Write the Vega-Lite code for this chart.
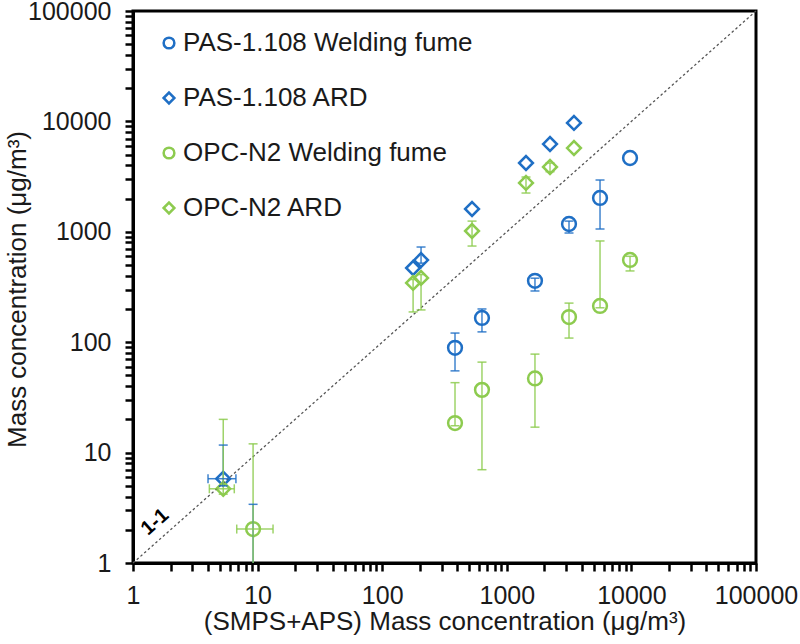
{
  "$schema": "https://vega.github.io/schema/vega-lite/v6.json",
  "width": 623,
  "height": 552,
  "autosize": "none",
  "padding": {"left": 133, "top": 11, "right": 44, "bottom": 81},
  "background": "white",
  "config": {
    "view": {"stroke": "black", "strokeWidth": 3},
    "font": "Liberation Sans",
    "axis": {
      "domainColor": "black",
      "domainWidth": 3,
      "tickColor": "black",
      "grid": false,
      "labelFont": "Liberation Sans",
      "labelFontSize": 25,
      "labelColor": "#1a1a1a",
      "labelOverlap": false,
      "labelFlush": false,
      "titleFont": "Liberation Sans",
      "titleFontSize": 26,
      "titleFontWeight": "normal",
      "titleColor": "#1a1a1a"
    }
  },
  "datasets": {
    "pts": [
      {"series": "PAS-1.108 Welding fume", "x": 9.2, "y": 0.8, "yLo": 0.3, "yHi": 3.4, "xLo": 7.6, "xHi": 11.5},
      {"series": "PAS-1.108 Welding fume", "x": 384, "y": 89, "yLo": 55, "yHi": 121},
      {"series": "PAS-1.108 Welding fume", "x": 632, "y": 166, "yLo": 124, "yHi": 200},
      {"series": "PAS-1.108 Welding fume", "x": 1683, "y": 360, "yLo": 291, "yHi": 380},
      {"series": "PAS-1.108 Welding fume", "x": 3157, "y": 1177, "yLo": 975, "yHi": 1250},
      {"series": "PAS-1.108 Welding fume", "x": 5600, "y": 2025, "yLo": 1060, "yHi": 2945},
      {"series": "PAS-1.108 Welding fume", "x": 9750, "y": 4660},
      {"series": "PAS-1.108 ARD", "x": 5.3, "y": 5.8, "yLo": 5.0, "yHi": 11.7, "xLo": 4.0, "xHi": 6.7},
      {"series": "PAS-1.108 ARD", "x": 177, "y": 470},
      {"series": "PAS-1.108 ARD", "x": 205, "y": 555, "yLo": 520, "yHi": 728},
      {"series": "PAS-1.108 ARD", "x": 526, "y": 1610},
      {"series": "PAS-1.108 ARD", "x": 1426, "y": 4200},
      {"series": "PAS-1.108 ARD", "x": 2222, "y": 6240},
      {"series": "PAS-1.108 ARD", "x": 3460, "y": 9680},
      {"series": "OPC-N2 Welding fume", "x": 9.2, "y": 2.03, "yLo": 0.9, "yHi": 12, "xLo": 6.8, "xHi": 13.3},
      {"series": "OPC-N2 Welding fume", "x": 384, "y": 18.5, "yLo": 17.5, "yHi": 43},
      {"series": "OPC-N2 Welding fume", "x": 632, "y": 37, "yLo": 7.0, "yHi": 66},
      {"series": "OPC-N2 Welding fume", "x": 1683, "y": 47, "yLo": 17, "yHi": 78},
      {"series": "OPC-N2 Welding fume", "x": 3157, "y": 169, "yLo": 109, "yHi": 226},
      {"series": "OPC-N2 Welding fume", "x": 5600, "y": 213, "yLo": 205, "yHi": 826},
      {"series": "OPC-N2 Welding fume", "x": 9750, "y": 556, "yLo": 442, "yHi": 600},
      {"series": "OPC-N2 ARD", "x": 5.3, "y": 4.7, "yLo": 4.2, "yHi": 20, "xLo": 4.1, "xHi": 6.5},
      {"series": "OPC-N2 ARD", "x": 177, "y": 344, "yLo": 188, "yHi": 370},
      {"series": "OPC-N2 ARD", "x": 205, "y": 382, "yLo": 196, "yHi": 410},
      {"series": "OPC-N2 ARD", "x": 526, "y": 1017, "yLo": 743, "yHi": 1250},
      {"series": "OPC-N2 ARD", "x": 1426, "y": 2770, "yLo": 2245, "yHi": 3135},
      {"series": "OPC-N2 ARD", "x": 2222, "y": 3865, "yLo": 3500, "yHi": 4200},
      {"series": "OPC-N2 ARD", "x": 3460, "y": 5740}
    ],
    "diag": [{"x": 1, "y": 1}, {"x": 100000, "y": 100000}],
    "lab": [{"x": 1.5, "y": 2.35, "t": "1-1"}]
  },
  "layer": [
    {
      "data": {"name": "pts"},
      "mark": {"type": "point", "filled": false, "size": 190, "strokeWidth": 2.5, "opacity": 1, "clip": true},
      "encoding": {
        "x": {
          "field": "x", "type": "quantitative",
          "scale": {"type": "log", "domain": [1, 100000], "nice": false},
          "axis": {
            "title": "(SMPS+APS) Mass concentration (μg/m³)",
            "values": [1,2,3,4,5,6,7,8,9,10,20,30,40,50,60,70,80,90,100,200,300,400,500,600,700,800,900,1000,2000,3000,4000,5000,6000,7000,8000,9000,10000,20000,30000,40000,50000,60000,70000,80000,90000,100000],
            "labelExpr": "abs(log(datum.value)/LN10 - round(log(datum.value)/LN10)) < 0.001 ? format(datum.value, 'd') : ''",
            "tickSize": 8,
            "tickWidth": 2.5,
            "labelBaseline": "alphabetic",
            "labelPadding": 32,
            "titleBaseline": "alphabetic",
            "titleY": 66,
            "encode": {
              "ticks": {"update": {"y2": {"signal": "abs(log(datum.value)/LN10 - round(log(datum.value)/LN10)) < 0.001 ? 8 : -6"}}}
            }
          }
        },
        "y": {
          "field": "y", "type": "quantitative",
          "scale": {"type": "log", "domain": [1, 100000], "nice": false},
          "axis": {
            "title": "Mass concentration (μg/m³)",
            "values": [1,2,3,4,5,6,7,8,9,10,20,30,40,50,60,70,80,90,100,200,300,400,500,600,700,800,900,1000,2000,3000,4000,5000,6000,7000,8000,9000,10000,20000,30000,40000,50000,60000,70000,80000,90000,100000],
            "labelExpr": "abs(log(datum.value)/LN10 - round(log(datum.value)/LN10)) < 0.001 ? format(datum.value, 'd') : ''",
            "tickSize": 8,
            "tickWidth": 2.5,
            "labelPadding": 14,
            "titleBaseline": "alphabetic",
            "titleX": -108,
            "titleY": 278,
            "encode": {
              "ticks": {"update": {"x2": {"signal": "abs(log(datum.value)/LN10 - round(log(datum.value)/LN10)) < 0.001 ? -8 : 6"}}}
            }
          }
        },
        "color": {
          "field": "series", "type": "nominal",
          "scale": {
            "domain": ["PAS-1.108 Welding fume", "PAS-1.108 ARD", "OPC-N2 Welding fume", "OPC-N2 ARD"],
            "range": ["#1f6fc5", "#1f6fc5", "#8dcb4f", "#8dcb4f"]
          },
          "legend": {"orient": "none", "legendX": 23, "legendY": 19, "title": null, "labelFontSize": 26, "labelFont": "Liberation Sans", "labelColor": "#1a1a1a", "symbolSize": 115, "symbolStrokeWidth": 2.5, "symbolOpacity": 1, "rowPadding": 29, "labelOffset": 1, "padding": 0, "labelLimit": 400}
        },
        "shape": {
          "field": "series", "type": "nominal",
          "scale": {
            "domain": ["PAS-1.108 Welding fume", "PAS-1.108 ARD", "OPC-N2 Welding fume", "OPC-N2 ARD"],
            "range": ["circle", "diamond", "circle", "diamond"]
          },
          "legend": {"orient": "none", "legendX": 23, "legendY": 19, "title": null, "labelFontSize": 26, "labelFont": "Liberation Sans", "labelColor": "#1a1a1a", "symbolSize": 115, "symbolStrokeWidth": 2.5, "symbolOpacity": 1, "rowPadding": 29, "labelOffset": 1, "padding": 0, "labelLimit": 400}
        }
      }
    },
    {
      "data": {"name": "diag"},
      "mark": {"type": "line", "color": "#555555", "strokeWidth": 1.3, "strokeDash": [2.5, 2.5]},
      "encoding": {
        "x": {"field": "x", "type": "quantitative"},
        "y": {"field": "y", "type": "quantitative"}
      }
    },
    {
      "data": {"name": "lab"},
      "mark": {"type": "text", "angle": 318.5, "fontSize": 20, "fontWeight": "bold", "font": "Liberation Sans", "color": "black"},
      "encoding": {
        "x": {"field": "x", "type": "quantitative"},
        "y": {"field": "y", "type": "quantitative"},
        "text": {"field": "t"}
      }
    },
    {
      "data": {"name": "pts"},
      "transform": [{"filter": "isValid(datum.yHi)"}],
      "mark": {"type": "rule", "strokeWidth": 1.5, "opacity": 0.85, "clip": true},
      "encoding": {
        "x": {"field": "x", "type": "quantitative"},
        "y": {"field": "yLo", "type": "quantitative"},
        "y2": {"field": "yHi"},
        "color": {"field": "series", "type": "nominal"}
      }
    },
    {
      "data": {"name": "pts"},
      "transform": [{"filter": "isValid(datum.yHi)"}],
      "mark": {"type": "rule", "strokeWidth": 1.5, "opacity": 0.85, "clip": true, "xOffset": -4.5, "x2Offset": 4.5},
      "encoding": {
        "x": {"field": "x", "type": "quantitative"},
        "x2": {"field": "x"},
        "y": {"field": "yHi", "type": "quantitative"},
        "color": {"field": "series", "type": "nominal"}
      }
    },
    {
      "data": {"name": "pts"},
      "transform": [{"filter": "isValid(datum.yLo)"}],
      "mark": {"type": "rule", "strokeWidth": 1.5, "opacity": 0.85, "clip": true, "xOffset": -4.5, "x2Offset": 4.5},
      "encoding": {
        "x": {"field": "x", "type": "quantitative"},
        "x2": {"field": "x"},
        "y": {"field": "yLo", "type": "quantitative"},
        "color": {"field": "series", "type": "nominal"}
      }
    },
    {
      "data": {"name": "pts"},
      "transform": [{"filter": "isValid(datum.xLo)"}],
      "mark": {"type": "rule", "strokeWidth": 1.5, "opacity": 0.85, "clip": true},
      "encoding": {
        "x": {"field": "xLo", "type": "quantitative"},
        "x2": {"field": "xHi"},
        "y": {"field": "y", "type": "quantitative"},
        "color": {"field": "series", "type": "nominal"}
      }
    },
    {
      "data": {"name": "pts"},
      "transform": [{"filter": "isValid(datum.xLo)"}],
      "mark": {"type": "rule", "strokeWidth": 1.5, "opacity": 0.85, "clip": true, "yOffset": -4.5, "y2Offset": 4.5},
      "encoding": {
        "x": {"field": "xLo", "type": "quantitative"},
        "y": {"field": "y", "type": "quantitative"},
        "y2": {"field": "y"},
        "color": {"field": "series", "type": "nominal"}
      }
    },
    {
      "data": {"name": "pts"},
      "transform": [{"filter": "isValid(datum.xHi)"}],
      "mark": {"type": "rule", "strokeWidth": 1.5, "opacity": 0.85, "clip": true, "yOffset": -4.5, "y2Offset": 4.5},
      "encoding": {
        "x": {"field": "xHi", "type": "quantitative"},
        "y": {"field": "y", "type": "quantitative"},
        "y2": {"field": "y"},
        "color": {"field": "series", "type": "nominal"}
      }
    }
  ]
}
